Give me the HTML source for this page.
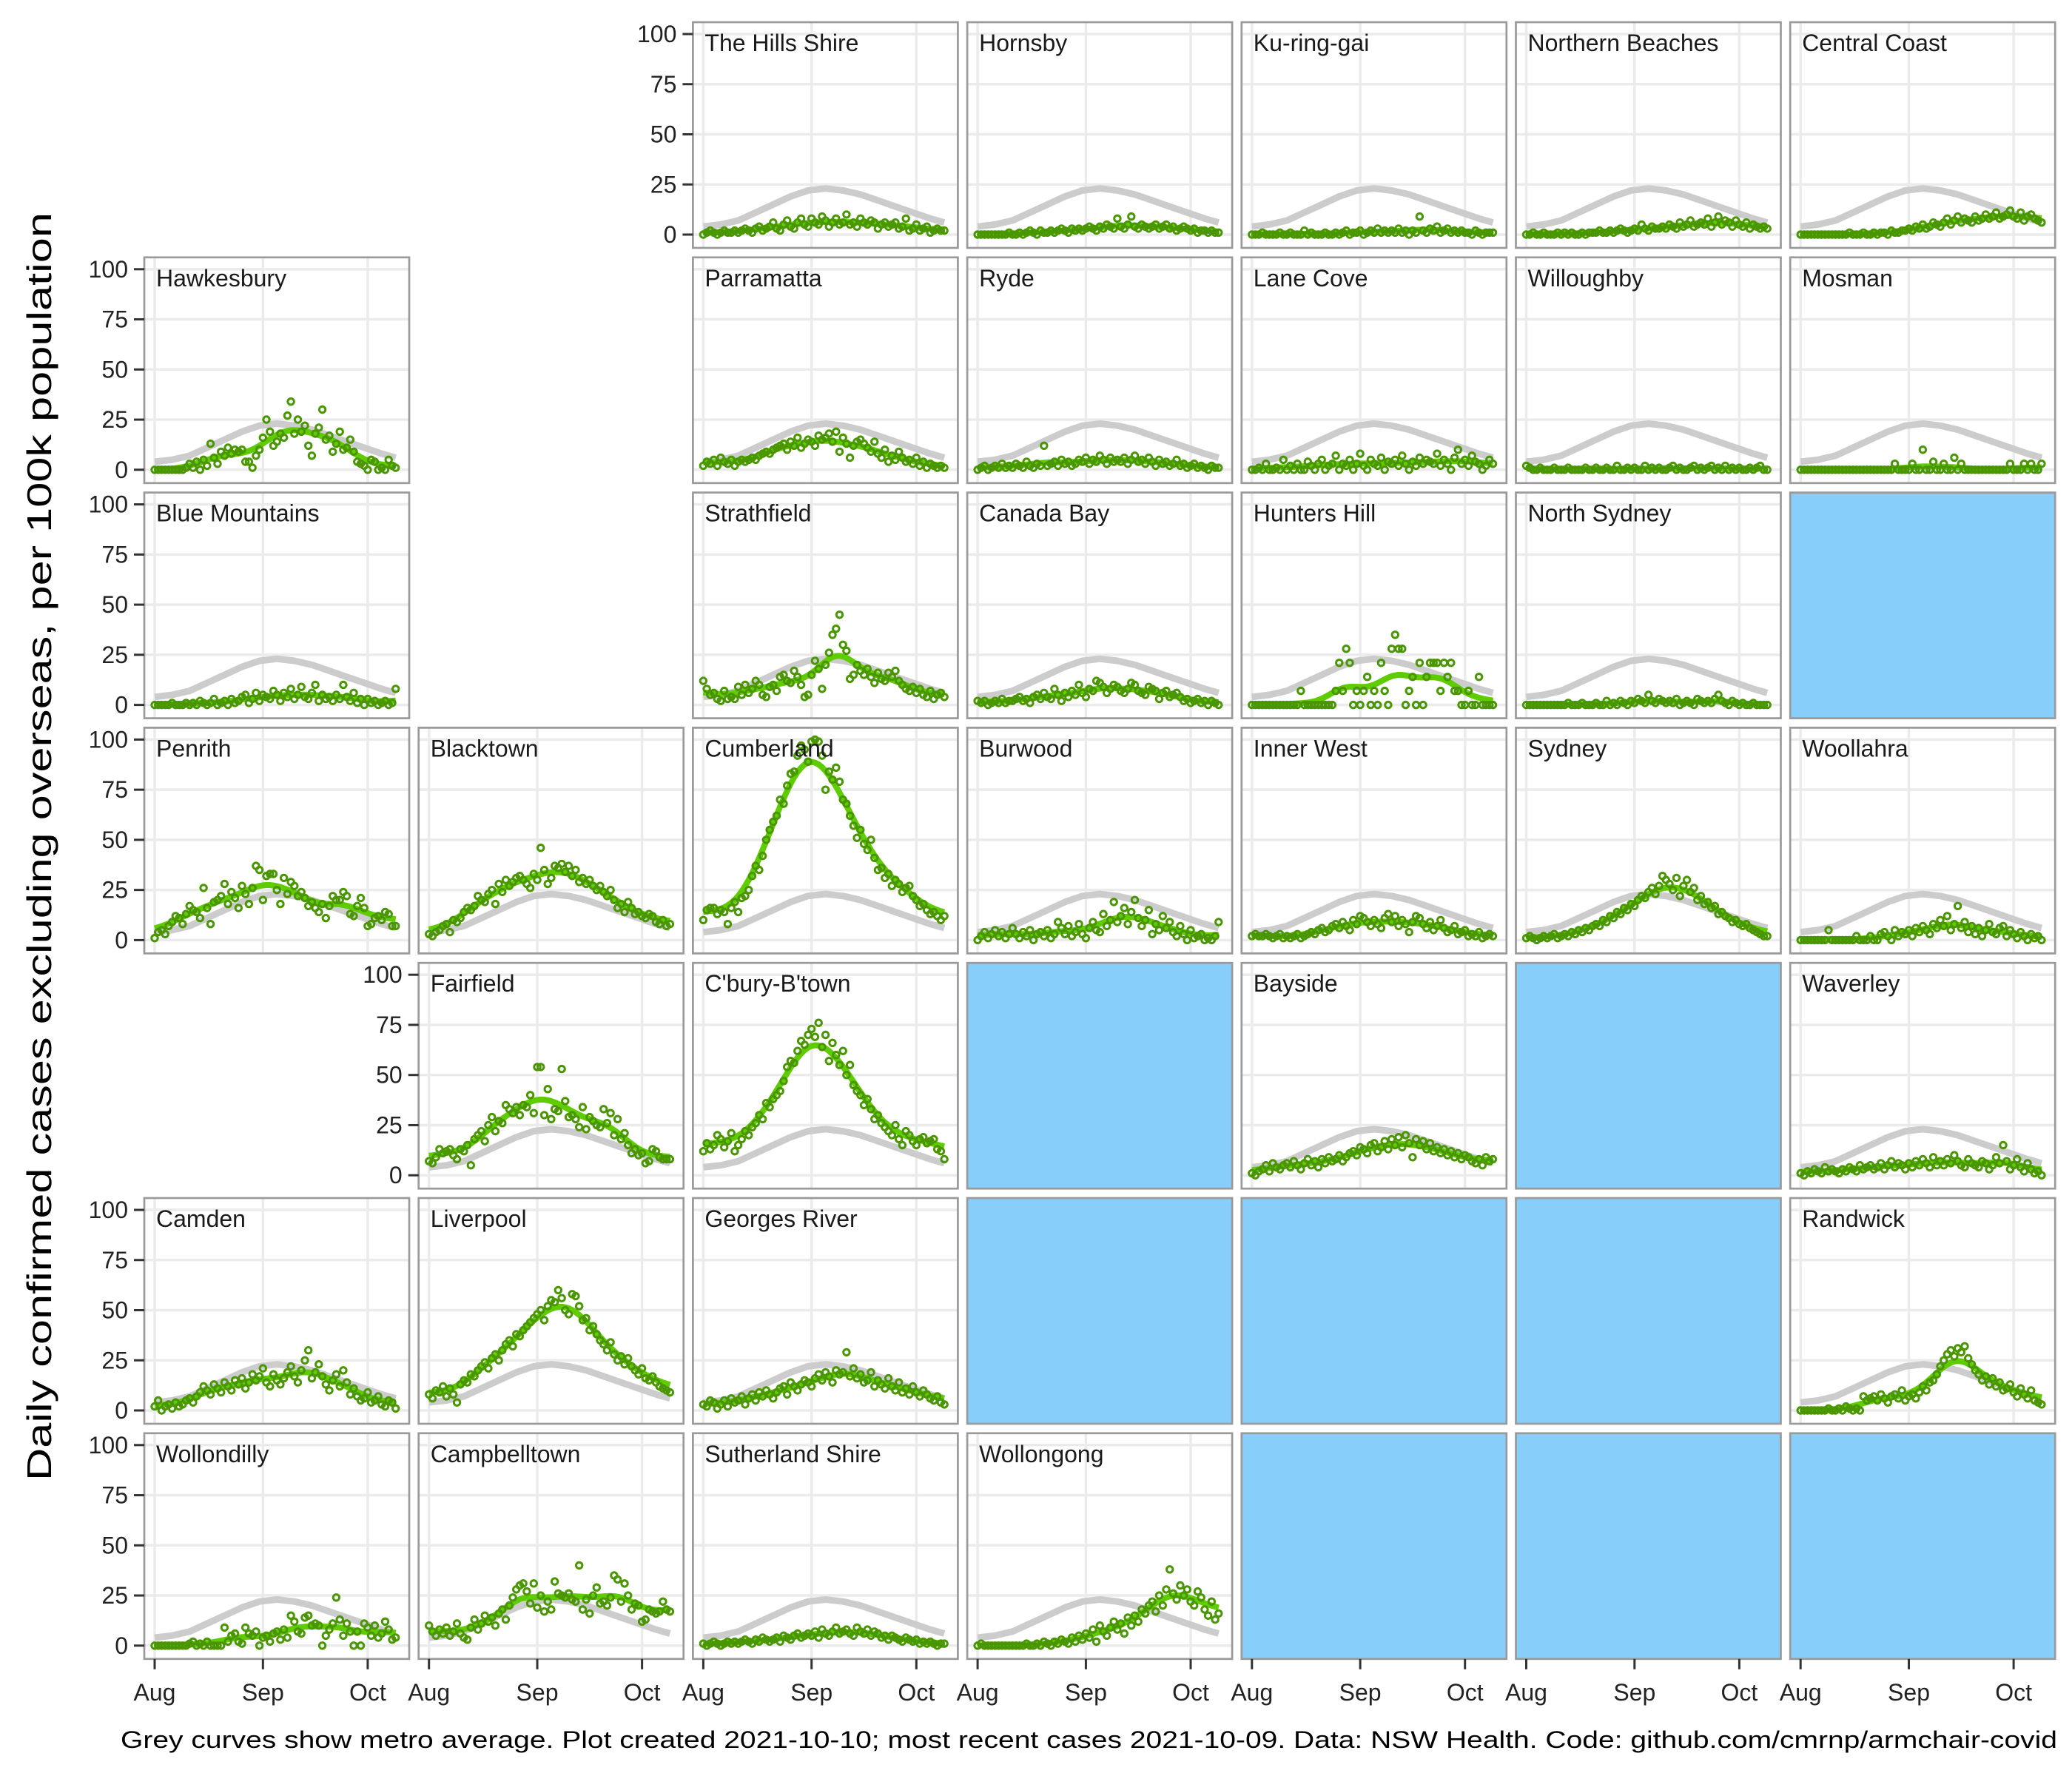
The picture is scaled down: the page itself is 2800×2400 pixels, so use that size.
<!DOCTYPE html>
<html><head><meta charset="utf-8"><title>NSW LGA daily cases</title>
<style>html,body{margin:0;padding:0;background:#fff}svg{display:block}text{font-family:"Liberation Sans",Arial,sans-serif}</style>
</head><body>
<svg id="chart" xmlns="http://www.w3.org/2000/svg" width="2800" height="2400" viewBox="0 0 2800 2400">
<rect x="0" y="0" width="2800" height="2400" fill="#fff"/>
<text x="0" y="0" transform="translate(69,1144) rotate(-90)" text-anchor="middle" font-size="46" fill="#000" textLength="1714" lengthAdjust="spacingAndGlyphs">Daily confirmed cases excluding overseas, per 100k population</text>
<text x="163" y="2362" font-size="32" fill="#000" textLength="2617" lengthAdjust="spacingAndGlyphs">Grey curves show metro average. Plot created 2021-10-10; most recent cases 2021-10-09. Data: NSW Health. Code: github.com/cmrnp/armchair-covid</text>
<g id="panels"></g>
</svg>
<script>
// ---- data ----
const xTickLabels = ["Aug","Sep","Oct"];
const xTickDays = [0,31,61];
const yTickValues = [0,25,50,75,100];
const metroDays = [0,5,10,15,20,25,30,35,40,45,50,55,60,65,69];
const metroValues = [4,5,7,11,15,19,22,23,22,20,17,14,11,8,6];

const hillsShire = [0,1,2,1,0,1,2,1,1,2, 1,2,3,2,1,3,4,2,3,4, 6,3,2,5,7,4,3,6,8,5, 4,8,6,5,9,7,4,6,8,5, 6,10,5,6,4,8,6,5,7,6, 3,5,6,4,5,6,3,4,8,2, 3,5,2,3,4,1,2,3,2,2];
const hornsby = [0,0,0,0,0,0,0,0,0,1, 0,0,1,0,1,2,1,0,2,1, 1,2,1,2,3,2,1,3,2,3, 2,3,4,3,2,4,3,5,4,3, 8,4,3,5,9,4,3,5,4,3, 4,5,3,4,5,3,4,2,3,4, 3,2,3,1,2,2,1,2,1,1];
const kuringgai = [0,0,0,1,0,0,0,0,1,0, 0,1,0,0,0,2,0,1,0,0, 0,1,0,0,1,0,1,2,0,1, 1,2,0,1,2,1,3,1,2,1, 2,1,3,1,2,0,2,1,9,2, 1,3,2,4,1,2,3,1,2,1, 2,1,1,0,2,1,0,1,1,1];
const northernBeaches = [0,0,1,0,0,1,0,0,0,1, 0,1,0,1,0,0,1,0,1,1, 1,2,1,1,2,1,2,3,2,1, 2,3,2,5,3,2,4,3,3,4, 3,5,4,3,6,4,5,7,4,5, 6,5,8,4,6,9,5,7,6,4, 7,5,4,6,3,5,4,3,4,3];
const centralCoast = [0,0,0,0,0,0,0,0,0,0, 0,0,0,0,1,0,0,0,1,0, 0,1,0,1,1,0,2,1,1,2, 2,3,2,4,3,5,3,4,6,5, 4,6,8,5,7,9,6,8,7,6, 9,7,8,10,8,9,11,8,9,10, 12,9,8,11,7,9,10,8,7,6];
const hawkesbury = [0,0,0,0,0,0,0,0,0,1, 3,1,4,0,5,2,13,6,3,9, 7,11,8,10,9,10,4,4,1,7, 10,16,25,19,12,14,18,16,27,34, 18,25,19,22,12,7,18,21,30,15, 17,9,13,19,10,11,15,9,4,3, 2,0,5,4,0,1,0,5,2,1];
const parramatta = [2,4,3,5,2,6,4,3,5,2, 4,5,4,5,6,5,7,8,9,8, 10,11,12,13,10,14,12,16,11,13, 15,14,12,17,15,16,18,14,19,9, 16,13,6,12,14,15,13,11,9,14, 8,6,10,4,7,5,9,6,4,5, 3,6,2,4,1,3,2,1,2,1];
const ryde = [0,1,2,0,1,2,1,3,1,2, 1,3,2,1,4,2,1,3,2,12, 2,3,4,2,5,3,4,2,3,5, 4,6,3,5,4,7,5,3,6,4, 5,4,6,3,5,7,4,5,3,6, 4,2,5,3,4,2,3,5,2,3, 1,2,3,1,2,1,0,2,1,1];
const laneCove = [0,0,1,0,3,0,0,1,0,5, 0,2,0,3,0,0,4,2,0,3, 5,0,2,3,7,0,3,2,5,0, 3,8,2,0,5,3,2,6,0,4, 3,5,2,7,3,0,4,2,6,3, 5,4,3,8,2,5,3,0,6,10, 3,5,2,7,4,3,0,2,5,3];
const willoughby = [2,1,0,0,1,0,0,0,1,0, 0,0,1,0,0,0,0,1,0,0, 1,0,0,1,0,0,2,0,0,1, 0,1,0,0,2,0,1,0,1,0, 0,1,2,0,1,0,0,1,2,0, 1,0,1,2,0,1,0,2,0,1, 0,1,0,0,1,0,1,2,0,0];
const mosman = [0,0,0,0,0,0,0,0,0,0, 0,0,0,0,0,0,0,0,0,0, 0,0,0,0,0,0,0,3,0,0, 0,0,3,0,0,10,0,0,4,0, 0,3,0,0,6,0,3,0,0,0, 0,0,0,0,0,0,0,0,0,0, 3,0,0,0,3,0,3,0,0,3];
const blueMountains = [0,0,0,0,0,1,0,0,0,1, 0,1,0,2,1,0,1,3,0,1, 2,0,3,1,2,4,5,1,3,6, 2,5,4,3,7,5,2,6,4,8, 3,5,9,4,3,6,10,2,5,3, 4,2,5,3,10,4,2,6,1,3, 0,3,1,2,0,1,2,0,1,8];
const strathfield = [12,8,5,6,3,2,7,3,4,3, 9,5,10,6,8,12,10,5,4,9, 10,7,14,15,12,11,17,14,10,4, 5,15,22,18,8,20,26,35,38,45, 30,27,13,15,20,17,15,18,14,11, 16,13,12,16,14,17,12,10,8,7, 9,6,8,5,4,7,3,5,6,4];
const canadaBay = [2,1,2,0,1,2,1,3,1,2, 2,3,4,2,3,1,4,5,3,6, 4,3,8,5,2,6,4,7,5,10, 6,4,8,7,12,11,9,6,8,10, 9,7,6,8,11,10,7,6,5,9, 8,7,3,6,7,4,5,6,4,2, 3,1,2,3,1,2,0,2,1,0];
const huntersHill = [0,0,0,0,0,0,0,0,0,0, 0,0,0,0,7,0,0,0,0,0, 0,0,0,0,7,21,7,28,21,0, 7,0,7,14,0,7,0,21,7,0, 28,35,28,28,0,7,14,0,21,0, 14,21,21,21,7,21,14,21,7,7, 0,0,7,0,0,14,0,0,0,0];
const northSydney = [0,0,0,0,0,0,0,0,0,0, 0,0,1,0,0,0,1,0,0,0, 1,0,0,2,0,1,0,2,1,0, 2,1,3,2,1,5,2,1,3,2, 1,2,1,3,0,1,2,1,0,3, 2,1,2,1,3,5,2,1,0,2, 1,0,1,0,0,1,0,0,0,0];
const penrith = [1,4,5,3,7,9,12,11,8,13, 17,15,14,11,26,16,8,19,20,22, 28,18,24,21,16,27,23,18,26,37, 35,20,32,33,33,25,18,31,23,29, 27,22,24,21,17,19,16,14,18,11, 17,22,20,20,24,22,13,12,17,21, 16,7,8,11,12,10,14,13,7,7];
const blacktown = [3,2,4,5,7,8,4,10,9,11, 14,16,15,17,22,20,19,23,25,18, 28,24,30,27,29,31,32,30,28,26, 33,30,46,35,28,31,37,36,38,34, 37,32,35,29,31,28,30,27,25,27, 24,22,25,20,16,18,14,19,16,13, 14,12,11,13,12,9,8,10,7,8];
const cumberland = [10,15,16,16,13,15,14,8,16,19, 14,21,22,25,32,37,35,42,50,55, 59,62,70,68,77,83,84,92,97,95, 89,99,100,99,92,75,84,80,86,79, 70,68,62,57,51,55,48,45,50,41, 35,36,31,33,27,30,28,24,26,27, 22,20,17,18,15,13,14,12,10,12];
const burwood = [0,2,4,1,3,5,2,4,1,3, 6,3,1,4,2,5,0,3,4,2, 5,1,3,9,6,3,7,2,4,8, 3,1,6,9,5,4,13,7,10,19, 9,12,16,8,14,20,11,7,10,15, 3,8,5,12,6,9,4,2,7,3, 0,5,1,2,3,0,1,0,2,9];
const innerWest = [2,3,2,2,3,2,1,2,3,1, 2,1,2,3,1,2,3,4,3,5, 6,4,5,7,8,6,9,7,5,10, 8,12,11,9,7,10,8,6,11,13, 9,12,7,10,8,4,9,12,11,8, 6,9,5,7,10,6,4,5,7,3, 4,5,2,3,2,4,1,2,3,2];
const sydney = [1,2,1,0,1,2,1,2,3,1, 2,3,2,4,3,5,4,6,5,7, 8,7,10,9,12,11,14,13,16,15, 18,17,20,22,21,24,26,23,27,32, 30,28,25,31,22,27,30,24,26,20, 22,18,19,16,17,13,14,12,11,9, 10,8,7,8,6,5,4,3,2,2];
const woollahra = [0,0,0,0,0,0,0,0,5,0, 0,0,0,0,0,0,2,0,0,0, 2,0,0,3,4,2,0,5,2,4, 3,5,2,6,4,7,5,3,8,6, 10,7,12,5,8,17,6,9,4,7, 3,6,2,5,8,4,3,6,7,2, 5,3,1,4,2,0,3,1,2,0];
const fairfield = [7,6,9,13,11,12,13,10,8,13, 12,15,5,18,20,22,17,25,29,22, 27,26,35,33,31,34,30,35,34,40, 31,54,54,30,43,28,33,32,53,37, 29,30,28,24,34,23,29,27,25,24, 33,26,31,20,28,18,21,15,11,13, 10,11,6,7,13,12,9,8,8,8];
const cburyBtown = [12,16,13,15,20,18,14,17,21,12, 15,18,22,20,24,26,30,28,36,34, 38,40,42,47,54,57,56,62,67,65, 70,73,69,76,64,70,57,66,60,55, 62,50,55,45,42,40,35,38,33,28, 30,26,24,22,20,25,18,15,22,20, 17,15,18,19,16,17,18,13,12,8];
const bayside = [1,0,2,3,5,2,6,4,3,5, 6,4,7,5,3,6,8,5,7,4, 8,6,9,7,8,10,7,9,11,12, 10,14,13,11,15,16,12,14,17,13, 18,15,19,14,20,16,9,18,15,17, 13,16,12,14,11,13,10,12,9,11, 8,10,9,7,6,8,5,9,7,8];
const waverley = [1,0,2,1,3,2,1,4,2,3, 2,1,3,2,4,3,2,5,3,4, 5,3,4,6,3,5,7,4,6,5, 3,6,4,7,5,8,6,4,9,5, 7,5,8,6,10,7,5,4,8,6, 5,4,7,6,3,5,9,6,15,7, 3,5,8,4,2,6,3,1,2,0];
const camden = [2,5,0,2,3,1,4,2,3,5, 6,4,7,9,12,10,8,13,11,9, 14,12,10,15,13,16,11,14,18,15, 17,21,14,12,18,15,13,16,19,22, 17,14,20,25,30,16,19,23,17,13, 10,15,18,12,20,14,8,11,7,5, 6,9,4,5,7,3,2,5,4,1];
const liverpool = [8,6,10,9,12,7,11,8,4,13, 15,14,18,17,20,22,24,21,26,28, 25,30,33,35,32,38,37,40,42,44, 46,48,50,45,52,55,54,60,56,50, 48,58,57,52,45,46,40,42,38,35, 33,30,34,28,25,27,23,26,22,20, 18,21,16,15,17,14,12,11,10,9];
const georgesRiver = [3,2,5,4,1,3,5,2,6,4, 5,7,3,6,8,5,9,7,10,8, 6,9,11,12,8,14,12,10,13,15, 14,12,16,18,15,19,17,14,20,18, 19,29,17,21,16,18,14,15,19,12, 15,13,11,16,12,10,14,9,11,8, 12,9,7,10,8,6,5,7,4,3];
const randwick = [0,0,0,0,0,0,0,0,1,0, 0,1,0,2,1,0,1,0,7,5, 6,7,5,8,6,4,7,8,6,10, 5,7,8,6,9,12,10,14,15,18, 22,25,28,30,27,31,29,32,26,23, 20,18,15,17,13,16,12,14,10,11, 13,9,7,11,8,6,10,5,4,3];
const wollondilly = [0,0,0,0,0,0,0,0,0,0, 1,2,0,1,0,2,0,0,0,0, 9,2,5,6,2,1,9,6,5,7, 0,4,5,2,6,7,3,8,4,15, 12,7,6,14,15,10,11,10,0,5, 8,11,24,13,5,11,7,0,7,0, 11,9,5,10,4,6,12,8,3,4];
const campbelltown = [10,7,5,8,6,9,5,7,11,6, 4,3,9,13,8,11,15,12,14,10, 16,18,13,20,24,28,30,31,27,21, 31,19,25,17,22,18,32,26,25,24, 26,23,22,40,18,23,16,25,29,21, 22,20,24,35,33,22,31,25,18,21, 20,12,13,18,17,16,17,22,18,17];
const sutherlandShire = [1,0,1,2,1,0,1,2,1,2, 1,2,3,2,1,3,2,4,3,2, 3,4,2,5,4,3,5,6,4,5, 6,5,7,4,8,6,5,7,9,6, 7,8,6,5,9,7,6,8,5,7, 6,4,5,3,5,4,3,2,4,3, 2,3,1,2,1,2,1,0,1,1];
const wollongong = [0,1,0,0,0,0,0,0,0,0, 0,0,0,0,1,0,0,1,0,2, 1,0,2,1,3,2,1,4,2,5, 3,6,4,8,2,10,7,5,9,12, 8,11,6,14,10,15,12,18,16,20, 22,17,25,20,28,38,26,23,30,25, 28,22,20,27,24,18,15,22,13,16];

// layout: [row, col, name, series] ; "BLANK" = light-blue placeholder
const panelList = [
 [0,2,"The Hills Shire",hillsShire],[0,3,"Hornsby",hornsby],[0,4,"Ku-ring-gai",kuringgai],[0,5,"Northern Beaches",northernBeaches],[0,6,"Central Coast",centralCoast],
 [1,0,"Hawkesbury",hawkesbury],[1,2,"Parramatta",parramatta],[1,3,"Ryde",ryde],[1,4,"Lane Cove",laneCove],[1,5,"Willoughby",willoughby],[1,6,"Mosman",mosman],
 [2,0,"Blue Mountains",blueMountains],[2,2,"Strathfield",strathfield],[2,3,"Canada Bay",canadaBay],[2,4,"Hunters Hill",huntersHill],[2,5,"North Sydney",northSydney],[2,6,"BLANK",null],
 [3,0,"Penrith",penrith],[3,1,"Blacktown",blacktown],[3,2,"Cumberland",cumberland],[3,3,"Burwood",burwood],[3,4,"Inner West",innerWest],[3,5,"Sydney",sydney],[3,6,"Woollahra",woollahra],
 [4,1,"Fairfield",fairfield],[4,2,"C'bury-B'town",cburyBtown],[4,3,"BLANK",null],[4,4,"Bayside",bayside],[4,5,"BLANK",null],[4,6,"Waverley",waverley],
 [5,0,"Camden",camden],[5,1,"Liverpool",liverpool],[5,2,"Georges River",georgesRiver],[5,3,"BLANK",null],[5,4,"BLANK",null],[5,5,"BLANK",null],[5,6,"Randwick",randwick],
 [6,0,"Wollondilly",wollondilly],[6,1,"Campbelltown",campbelltown],[6,2,"Sutherland Shire",sutherlandShire],[6,3,"Wollongong",wollongong],[6,4,"BLANK",null],[6,5,"BLANK",null],[6,6,"BLANK",null]
];

// ---- rendering ----
const NS = "http://www.w3.org/2000/svg";
const PW = 358, PH = 305, COLP = 370.7, ROWP = 317.8, X0 = 195, Y0 = 30;
function colLeft(c){ return X0 + c*COLP; }
function rowTop(r){ return Y0 + r*ROWP; }
function xs(left, d){ return left + 14 + d*4.72; }
function ys(top, v){ return top + 16 + (100 - v)*2.71; }
function mk(tag, attrs, parent){ const e = document.createElementNS(NS, tag); for (const k in attrs) e.setAttribute(k, attrs[k]); parent.appendChild(e); return e; }
function smooth(vals){
  const out = [], s = 4.5;
  for (let i=0;i<vals.length;i++){ let w=0, t=0; for (let j=0;j<vals.length;j++){ const k=Math.exp(-((i-j)*(i-j))/(2*s*s)); w+=k; t+=k*vals[j]; } out.push(t/w); }
  return out;
}
const root = document.getElementById("panels");
const firstInRow = {};
panelList.forEach(p => { if (!(p[0] in firstInRow) || p[1] < firstInRow[p[0]]) firstInRow[p[0]] = p[1]; });

panelList.forEach(p => {
  const [r, c, name, vals] = p;
  const L = colLeft(c), T = rowTop(r);
  const slug = name.toLowerCase().replace(/[^a-z]+/g, "-");
  const g = mk("g", {}, root);
  if (vals === null) {
    
    
    mk("rect", {x:L, y:T, width:PW, height:PH, fill:"#87cefa", stroke:"#9a9a9a", "stroke-width":2.7}, g);
  } else {
    
    
    mk("rect", {x:L, y:T, width:PW, height:PH, fill:"#fff"}, g);
    const clipId = "clip" + r + "_" + c;
    const cp = mk("clipPath", {id:clipId}, g);
    mk("rect", {x:L, y:T, width:PW, height:PH}, cp);
    const inner = mk("g", {"clip-path":"url(#"+clipId+")"}, g);
    yTickValues.forEach(v => mk("line", {x1:L, x2:L+PW, y1:ys(T,v), y2:ys(T,v), stroke:"#ebebeb", "stroke-width":3.5}, inner));
    xTickDays.forEach(d => mk("line", {x1:xs(L,d), x2:xs(L,d), y1:T, y2:T+PH, stroke:"#ebebeb", "stroke-width":3.5}, inner));
    const gp = metroDays.map((d,i) => xs(L,d).toFixed(1) + "," + ys(T,metroValues[i]).toFixed(1)).join(" ");
    const grey = mk("polyline", {points:gp, fill:"none", stroke:"#cccccc", "stroke-width":9, "stroke-linejoin":"round"}, inner);
    
    
    const sm = smooth(vals);
    const sp = sm.map((v,i) => xs(L,i).toFixed(1) + "," + ys(T,v).toFixed(1)).join(" ");
    const gl = mk("polyline", {points:sp, fill:"none", stroke:"#5fcc00", "stroke-width":8, "stroke-linejoin":"round"}, inner);
    
    
    vals.forEach((v,i) => {
      const pt = mk("circle", {cx:xs(L,i).toFixed(1), cy:ys(T,v).toFixed(1), r:4.2, fill:"none", stroke:"#4a9600", "stroke-width":3}, inner);
      
      
    });
    mk("rect", {x:L, y:T, width:PW, height:PH, fill:"none", stroke:"#9a9a9a", "stroke-width":2.7}, g);
    const tt = mk("text", {x:L+16, y:T+39, "font-size":32, fill:"#1a1a1a"}, g);
    tt.textContent = name;
    
    
  }
  if (firstInRow[r] === c) {
    yTickValues.forEach(v => {
      mk("line", {x1:L-14, x2:L, y1:ys(T,v), y2:ys(T,v), stroke:"#333", "stroke-width":3}, g);
      const lab = mk("text", {x:L-22, y:ys(T,v)+11, "font-size":32, fill:"#222", "text-anchor":"end"}, g);
      lab.textContent = String(v);
      
      
    });
  }
  if (r === 6) {
    xTickDays.forEach((d,i) => {
      mk("line", {x1:xs(L,d), x2:xs(L,d), y1:T+PH, y2:T+PH+14, stroke:"#333", "stroke-width":3}, g);
      const lab = mk("text", {x:xs(L,d), y:T+PH+56, "font-size":32, fill:"#222", "text-anchor":"middle"}, g);
      lab.textContent = xTickLabels[i];
      
      
    });
  }
});
</script>
</body></html>
